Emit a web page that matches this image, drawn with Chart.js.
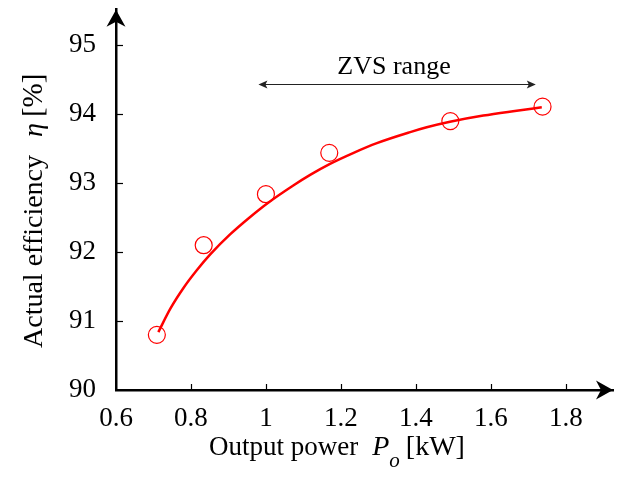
<!DOCTYPE html>
<html>
<head>
<meta charset="utf-8">
<script src="https://cdn.jsdelivr.net/npm/chart.js@4/dist/chart.umd.min.js"></script>
<style>
html,body{margin:0;padding:0;background:#fff;}
#c{display:block;}
</style>
</head>
<body>
<canvas id="c" width="624" height="477"></canvas>
<script>
// Measured points
const measuredPower = [0.709, 0.834, 1.0, 1.169, 1.492, 1.738];
const measuredEff = [90.8, 92.1, 92.84, 93.44, 93.9, 94.11];
// Fitted curve
const curvePower = [0.713, 0.745, 0.780, 0.816, 0.852, 0.905, 0.958, 1.007, 1.074, 1.118, 1.171, 1.234, 1.296, 1.385, 1.429, 1.491, 1.580, 1.669, 1.736];
const curveEff = [90.84, 91.18, 91.48, 91.74, 91.97, 92.26, 92.51, 92.72, 92.97, 93.12, 93.28, 93.44, 93.58, 93.74, 93.81, 93.89, 93.98, 94.05, 94.10];
// Ticks
const xTickValues = [0.6, 0.8, 1.0, 1.2, 1.4, 1.6, 1.8];
const xTickLabels = ['0.6', '0.8', '1', '1.2', '1.4', '1.6', '1.8'];
const yTickValues = [90, 91, 92, 93, 94, 95];
const yTickLabels = ['90', '91', '92', '93', '94', '95'];
// ZVS range annotation
const zvsRange = [0.98, 1.72];
const zvsLevel = 94.44;
const zvsLabel = 'ZVS range';

const SERIF = '"Liberation Serif", "Times New Roman", serif';

const toXY = (xs, ys) => xs.map((x, i) => ({x: x, y: ys[i]}));

const decorPlugin = {
  id: 'decor',
  afterDraw(chart) {
    const ctx = chart.ctx;
    const xs = chart.scales.x, ys = chart.scales.y;
    const a = chart.chartArea;
    ctx.save();
    // inward ticks
    ctx.strokeStyle = '#000';
    ctx.lineWidth = 1.2;
    xTickValues.slice(1).forEach(v => {
      const px = Math.round(xs.getPixelForValue(v)) + 0.5;
      ctx.beginPath(); ctx.moveTo(px, a.bottom); ctx.lineTo(px, a.bottom - 6); ctx.stroke();
    });
    yTickValues.slice(1).forEach(v => {
      const py = Math.round(ys.getPixelForValue(v)) + 0.5;
      ctx.beginPath(); ctx.moveTo(a.left, py); ctx.lineTo(a.left + 7, py); ctx.stroke();
    });
    // axis arrowheads
    ctx.fillStyle = '#000';
    const yx = a.left, yt = a.top;
    ctx.beginPath();
    ctx.moveTo(yx, yt);
    ctx.lineTo(yx + 9.5, yt + 17);
    ctx.lineTo(yx, yt + 12);
    ctx.lineTo(yx - 9.5, yt + 17);
    ctx.closePath(); ctx.fill();
    const xr = a.right, xb = a.bottom;
    ctx.beginPath();
    ctx.moveTo(xr, xb);
    ctx.lineTo(xr - 17, xb - 9.5);
    ctx.lineTo(xr - 12, xb);
    ctx.lineTo(xr - 17, xb + 9.5);
    ctx.closePath(); ctx.fill();

    // ZVS annotation
    const x1 = xs.getPixelForValue(zvsRange[0]);
    const x2 = xs.getPixelForValue(zvsRange[1]);
    const yy = Math.round(ys.getPixelForValue(zvsLevel)) + 0.5;
    ctx.strokeStyle = '#222'; ctx.fillStyle = '#222'; ctx.lineWidth = 1.2;
    ctx.beginPath(); ctx.moveTo(x1 + 4, yy); ctx.lineTo(x2 - 4, yy); ctx.stroke();
    ctx.beginPath(); ctx.moveTo(x1, yy); ctx.lineTo(x1 + 9, yy - 4); ctx.lineTo(x1 + 7, yy); ctx.lineTo(x1 + 9, yy + 4); ctx.closePath(); ctx.fill();
    ctx.beginPath(); ctx.moveTo(x2, yy); ctx.lineTo(x2 - 9, yy - 4); ctx.lineTo(x2 - 7, yy); ctx.lineTo(x2 - 9, yy + 4); ctx.closePath(); ctx.fill();
    ctx.fillStyle = '#000';
    ctx.font = '26px ' + SERIF;
    ctx.textAlign = 'center'; ctx.textBaseline = 'alphabetic';
    ctx.fillText(zvsLabel, 394, yy - 11);

    // x-axis title
    ctx.textAlign = 'left';
    ctx.font = '27px ' + SERIF;
    ctx.fillText('Output power', 209, 455);
    const wOut = ctx.measureText('Output power').width;
    ctx.font = 'italic 28px ' + SERIF;
    const pX = 209 + wOut + 14;
    ctx.fillText('P', pX, 455);
    const wP = ctx.measureText('P').width;
    ctx.font = 'italic 21px ' + SERIF;
    ctx.fillText('o', pX + wP, 467);
    const wo = ctx.measureText('o').width;
    ctx.font = '28px ' + SERIF;
    ctx.fillText('[kW]', pX + wP + wo + 6, 455);

    // y-axis title
    ctx.save();
    ctx.translate(41.5, 348);
    ctx.rotate(-Math.PI / 2);
    ctx.font = '28px ' + SERIF;
    ctx.fillText('Actual efficiency', 0, 0);
    ctx.font = 'italic 28px ' + SERIF;
    ctx.fillText('\u03B7', 211, 0);
    const wEta = ctx.measureText('\u03B7').width;
    ctx.font = '29px ' + SERIF;
    ctx.fillText('[%]', 211 + wEta + 6, 0);
    ctx.restore();

    ctx.restore();
  }
};

new Chart(document.getElementById('c'), {
  type: 'scatter',
  data: {
    datasets: [
      {
        label: 'Fit',
        data: toXY(curvePower, curveEff),
        showLine: true,
        borderColor: '#ff0000',
        borderWidth: 2.5,
        pointRadius: 0,
        cubicInterpolationMode: 'monotone',
        fill: false
      },
      {
        label: 'Measured',
        data: toXY(measuredPower, measuredEff),
        showLine: false,
        pointStyle: 'circle',
        pointRadius: 8.5,
        pointBorderWidth: 1.2,
        pointBorderColor: '#ff0000',
        pointBackgroundColor: 'rgba(0,0,0,0)',
        borderColor: '#ff0000',
        backgroundColor: 'rgba(0,0,0,0)'
      }
    ]
  },
  options: {
    responsive: false,
    animation: false,
    events: [],
    layout: {padding: {left: 0, right: 11, top: 8, bottom: 0}},
    plugins: {legend: {display: false}, tooltip: {enabled: false}},
    scales: {
      x: {
        type: 'linear',
        min: 0.6,
        max: 1.926,
        afterBuildTicks: s => { s.ticks = xTickValues.map(v => ({value: v})); },
        afterFit: s => { s.height = 87; s.paddingLeft = 0; s.paddingRight = 0; },
        ticks: {
          callback: (v, i) => xTickLabels[i],
          font: {family: SERIF, size: 27},
          color: '#000',
          padding: 13,
          maxRotation: 0,
          autoSkip: false
        },
        grid: {display: false, drawTicks: false},
        border: {display: true, color: '#000', width: 2.5}
      },
      y: {
        type: 'linear',
        min: 90,
        max: 95.516,
        afterBuildTicks: s => { s.ticks = yTickValues.map(v => ({value: v})); },
        afterFit: s => { s.width = 116; s.paddingTop = 0; s.paddingBottom = 0; },
        ticks: {
          callback: (v, i) => yTickLabels[i],
          font: {family: SERIF, size: 27},
          color: '#000',
          padding: 20,
          autoSkip: false
        },
        grid: {display: false, drawTicks: false},
        border: {display: true, color: '#000', width: 2.5}
      }
    }
  },
  plugins: [decorPlugin]
});
</script>
</body>
</html>
